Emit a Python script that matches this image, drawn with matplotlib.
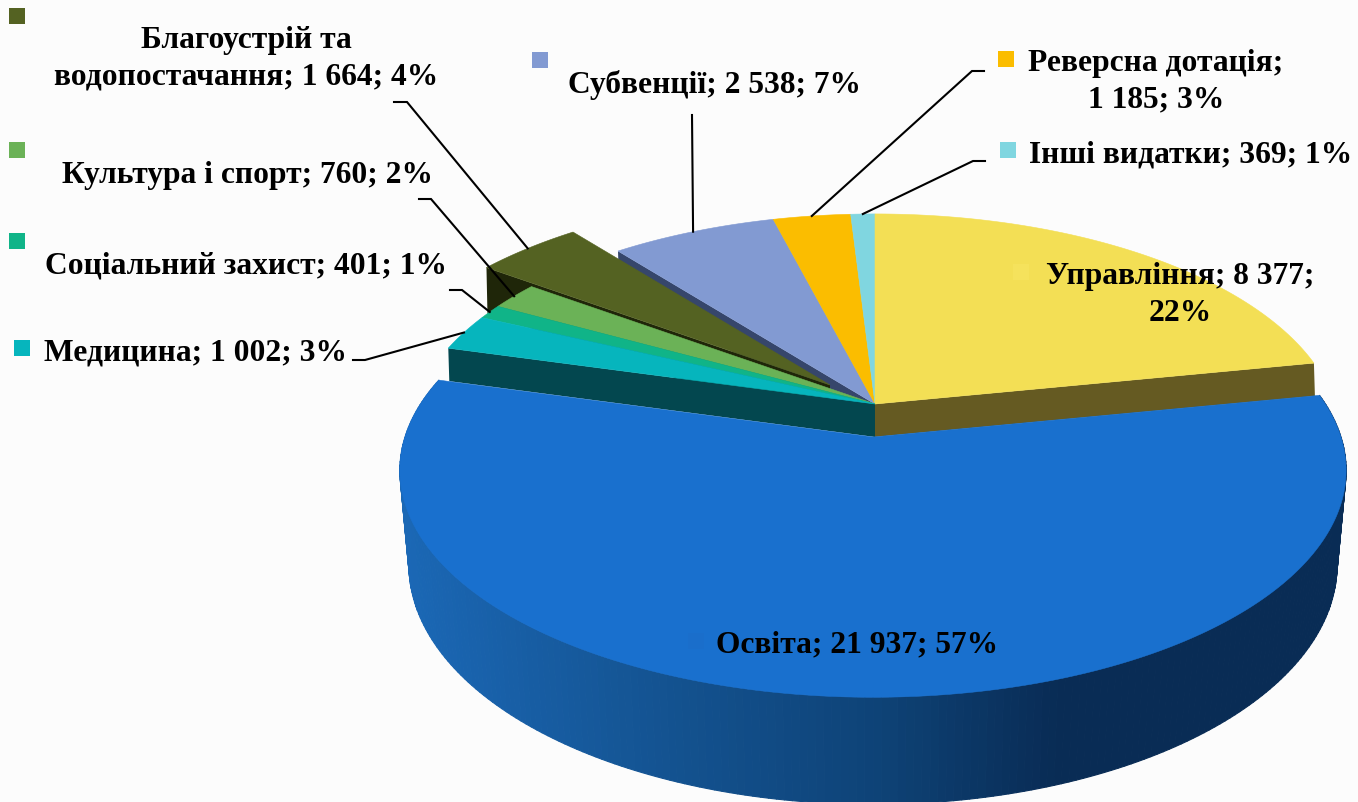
import matplotlib.pyplot as plt
import numpy as np

from matplotlib.axes import Axes
from matplotlib.collections import PolyCollection
from matplotlib.colors import LinearSegmentedColormap
from matplotlib.figure import Figure
from matplotlib.patches import Polygon

plt.rcParams["font.family"] = ["Liberation Serif", "DejaVu Serif"]

# ------------------------------
# Data (clockwise from 12 o'clock)
# ------------------------------
categories = ["Управління", "Освіта", "Медицина", "Соціальний захист", "Культура і спорт",
              "Благоустрій та водопостачання", "Субвенції", "Реверсна дотація", "Інші видатки"]
values = [8377, 21937, 1002, 401, 760, 1664, 2538, 1185, 369]
label_breaks = [(1, "\n"), None, None, None, None, (0, "\n"), None, (0, "\n"), None]

# ------------------------------
# Styles
# ------------------------------
top_colors = ["#f3df55", "#1970ce", "#06b5bd", "#10b488", "#6bb257",
              "#546222", "#829ad2", "#fbbd00", "#80d6e0"]
wall_colors = ["#655a22", None, "#03474f", None, None, "#1f2609", "#36466b", None, None]
wall_edges = ["end", None, "start", None, None, "start", "start", None, None]
wall_depths = [33, 0, 33, 0, 0, 46, 33, 0, 0]
apexes = [(875, 405), (873, 438), (875, 405), (875, 405), (875, 405),
          (830, 386), (875, 405), (875, 405), (875, 405)]
draw_order = [6, 7, 8, 0, 5, 4, 3, 2, 1]

key_centers = [(1021, 273), (696, 642), (22, 349), (17, 242), (17, 151),
               (17, 17), (540, 61), (1006, 60), (1008, 151)]
key_colors = ["#f5e25c", "#1a6ecb", "#06b5bd", "#10b488", "#6bb257",
              "#546222", "#829ad2", "#fbbd00", "#80d6e0"]
label_centers = [(1180, 295), (857, 645), (196, 353), (246, 266), (247, 175),
                 (246, 59), (715, 85), (1156, 82), (1191, 155)]
leader_elbows = [None, None, [(353, 361), (365, 361)], [(450, 291), (462, 291)],
                 [(419, 200), (431, 200)], [(394, 103), (407, 103)], [(692, 116)],
                 [(984, 72), (972, 72)], [(985, 162), (973, 162)]]

K = 0.147
RX, RY = 460.0, 218.0
EDU_RX, EDU_RY = 468.0, 222.0
EDU_BOTTOM_APEX = (873, 531)
EDU_BOTTOM_RX, EDU_BOTTOM_RY = 459.0, 234.0
side_x = [400, 650, 880, 1060, 1345]
side_c = ["#1b68b6", "#145493", "#0e4377", "#092c55", "#092c55"]


def project(theta: np.ndarray, apex: tuple, rx: float, ry: float) -> np.ndarray:
    # perspective view of a unit circle, theta clockwise from the top
    u = np.sin(theta)
    w = -np.cos(theta)
    s = 1.0 / (1.0 - K * w)
    return np.column_stack([apex[0] + rx * u * s, apex[1] + ry * w * s])


def make_label(i: int, pct: int) -> str:
    number = f"{values[i]:,}".replace(",", " ")
    name = categories[i]
    if i == 5:
        name = name.replace(" та ", " та\n")
    sep = label_breaks[i]
    tail = " " if sep is None or sep[0] == 0 else "\n"
    head = "\n" if i == 7 else " "
    return f"{name};{head}{number};{tail}{pct}%"


# ------------------------------
# Define Figure & Axes
# ------------------------------
fig: Figure = plt.figure(figsize=(13.58, 8.03), dpi=100, facecolor="#fcfcfc")
ax: Axes = fig.add_axes([0, 0, 1, 1])
ax.set_xlim(0, 1358)
ax.set_ylim(803, 0)
ax.axis("off")

# ------------------------------
# Wedges
# ------------------------------
shares = np.array(values) / np.sum(values)
edges = np.concatenate([[0.0], np.cumsum(shares)]) * 2 * np.pi
side_cmap = LinearSegmentedColormap.from_list(
    "side", [((x - side_x[0]) / (side_x[-1] - side_x[0]), c) for x, c in zip(side_x, side_c)]
)

for i in draw_order:
    t0, t1 = edges[i], edges[i + 1]
    apex = apexes[i]
    rx, ry = (EDU_RX, EDU_RY) if i == 1 else (RX, RY)
    theta = np.linspace(t0, t1, 240)
    rim = project(theta, apex, rx, ry)

    if i == 1:
        # curved front wall with a horizontal gradient
        low = project(theta, EDU_BOTTOM_APEX, EDU_BOTTOM_RX, EDU_BOTTOM_RY)
        quads = [[rim[j], rim[j + 1], low[j + 1], low[j]] for j in range(len(theta) - 1)]
        mid_x = (rim[:-1, 0] + low[:-1, 0]) / 2
        shade = side_cmap(np.clip((mid_x - side_x[0]) / (side_x[-1] - side_x[0]), 0, 1))
        ax.add_collection(PolyCollection(quads, facecolors=shade, edgecolors=shade, linewidths=0.8))

    if wall_colors[i] is not None:
        edge_t = t0 if wall_edges[i] == "start" else t1
        corner = project(np.array([edge_t]), apex, rx, ry)[0]
        d = wall_depths[i]
        quad = [apex, corner, (corner[0] + 1, corner[1] + d), (apex[0], apex[1] + d)]
        ax.add_patch(Polygon(quad, closed=True, facecolor=wall_colors[i], edgecolor="none"))

    ax.add_patch(Polygon(np.vstack([[apex], rim]), closed=True,
                         facecolor=top_colors[i], edgecolor=top_colors[i], linewidth=0.4))

# ------------------------------
# Leader lines, keys and labels
# ------------------------------
for i, elbow in enumerate(leader_elbows):
    if elbow is None:
        continue
    mid = (edges[i] + edges[i + 1]) / 2
    end = project(np.array([mid]), apexes[i], RX, RY)[0]
    pts = np.array(list(elbow) + [end])
    ax.plot(pts[:, 0], pts[:, 1], color="black", linewidth=1.5, solid_joinstyle="miter")

key_x = [c[0] for c in key_centers]
key_y = [c[1] for c in key_centers]
ax.scatter(key_x, key_y, marker="s", s=133, c=key_colors, linewidths=0)

for i in range(len(values)):
    pct = int(round(shares[i] * 100))
    ax.text(label_centers[i][0], label_centers[i][1], make_label(i, pct), ha="center", va="center",
            fontsize=22.7, fontweight="bold", color="black", linespacing=1.32)

# ------------------------------
# Save figure
# ------------------------------
fig.savefig("out.png", dpi=100, facecolor=fig.get_facecolor())
